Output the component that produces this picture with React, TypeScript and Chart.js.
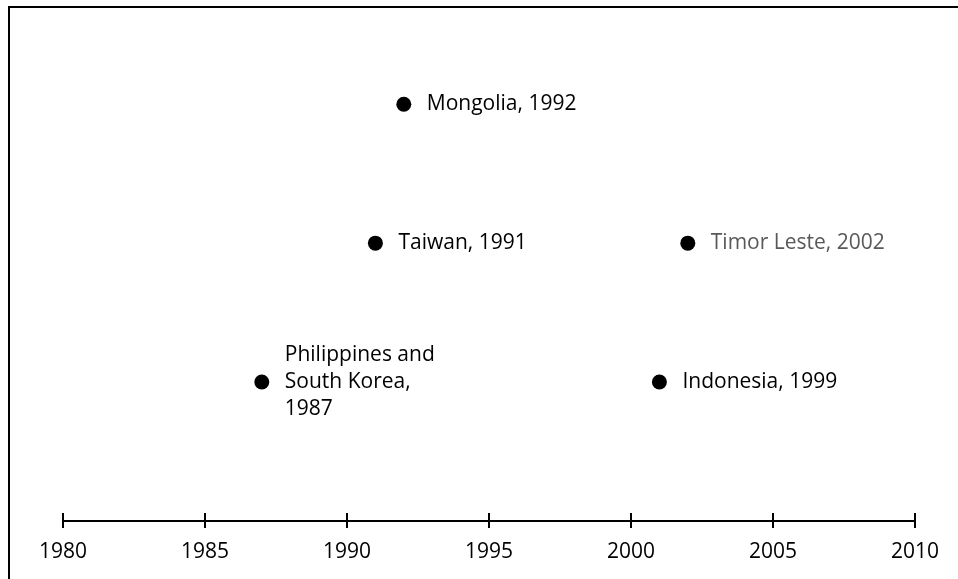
import React, { useEffect, useRef } from "react";
import { Chart, registerables } from "chart.js";

Chart.register(...registerables);

const eventLabels = [
  "Philippines and\nSouth Korea,\n1987",
  "Taiwan, 1991",
  "Mongolia, 1992",
  "Indonesia, 1999",
  "Timor Leste, 2002",
];
const eventYears = [1987, 1991, 1992, 2001, 2002];
const eventLevels = [1, 2, 3, 1, 2];
const labelColors = ["#000000", "#000000", "#000000", "#000000", "#595959"];
const tickYears = [1980, 1985, 1990, 1995, 2000, 2005, 2010];

const FONT = "'Open Sans', sans-serif";

const labelPlugin = {
  id: "eventLabels",
  afterDatasetsDraw(chart: any) {
    const ctx = chart.ctx;
    const meta = chart.getDatasetMeta(0);
    ctx.save();
    ctx.font = `21px ${FONT}`;
    ctx.textBaseline = "middle";
    ctx.textAlign = "left";
    meta.data.forEach((pt: any, i: number) => {
      const lines = eventLabels[i].split("\n");
      const lh = 27;
      const y0 = pt.y - ((lines.length - 1) / 2) * lh;
      ctx.fillStyle = labelColors[i];
      lines.forEach((ln: string, j: number) => {
        ctx.fillText(ln, pt.x + 23, y0 + j * lh);
      });
    });
    ctx.restore();
  },
};

const tickPlugin = {
  id: "upTicks",
  afterDraw(chart: any) {
    const ctx = chart.ctx;
    const xs = chart.scales.x;
    const yBase = chart.chartArea.bottom;
    ctx.save();
    ctx.strokeStyle = "#000";
    ctx.lineWidth = 2;
    tickYears.forEach((v) => {
      const px = xs.getPixelForValue(v);
      ctx.beginPath();
      ctx.moveTo(px, yBase - 8);
      ctx.lineTo(px, yBase);
      ctx.stroke();
    });
    ctx.restore();
  },
};

export default function App() {
  const ref = useRef<HTMLCanvasElement | null>(null);
  useEffect(() => {
    if (!ref.current) return;
    const chart = new Chart(ref.current, {
      type: "scatter",
      data: {
        datasets: [
          {
            data: eventYears.map((x, i) => ({ x, y: eventLevels[i] })),
            backgroundColor: "#000",
            borderWidth: 0,
            pointRadius: 7.5,
            pointHoverRadius: 7.5,
          },
        ],
      },
      options: {
        animation: false,
        responsive: false,
        events: [],
        layout: { autoPadding: false, padding: { left: 63, right: 43, top: 0, bottom: 0 } },
        plugins: { legend: { display: false }, tooltip: { enabled: false } },
        scales: {
          x: {
            type: "linear",
            min: 1980,
            max: 2010,
            afterFit: (s: any) => {
              s.height = 58;
            },
            afterBuildTicks: (s: any) => {
              s.ticks = tickYears.map((v) => ({ value: v }));
            },
            ticks: {
              callback: (v: any) => String(v),
              color: "#000",
              font: { family: FONT, size: 21 },
              padding: 11,
              maxRotation: 0,
            },
            grid: {
              drawOnChartArea: false,
              drawTicks: true,
              tickLength: 7,
              color: "#000",
              lineWidth: 2,
            },
            border: { display: true, color: "#000", width: 2 },
          },
          y: { display: false, min: 0, max: 3.75 },
        },
      },
      plugins: [labelPlugin, tickPlugin],
    });
    return () => chart.destroy();
  }, []);
  return (
    <div style={{ position: "fixed", left: 0, top: 0, width: 958, height: 579, overflow: "hidden", background: "#fff" }}>
      <div
        style={{
          position: "absolute",
          left: 8,
          top: 6,
          width: 2000,
          height: 2000,
          borderLeft: "2px solid #000",
          borderTop: "2px solid #000",
        }}
      />
      <canvas ref={ref} width={958} height={579} style={{ position: "absolute", left: 0, top: 0, width: 958, height: 579 }} />
    </div>
  );
}
